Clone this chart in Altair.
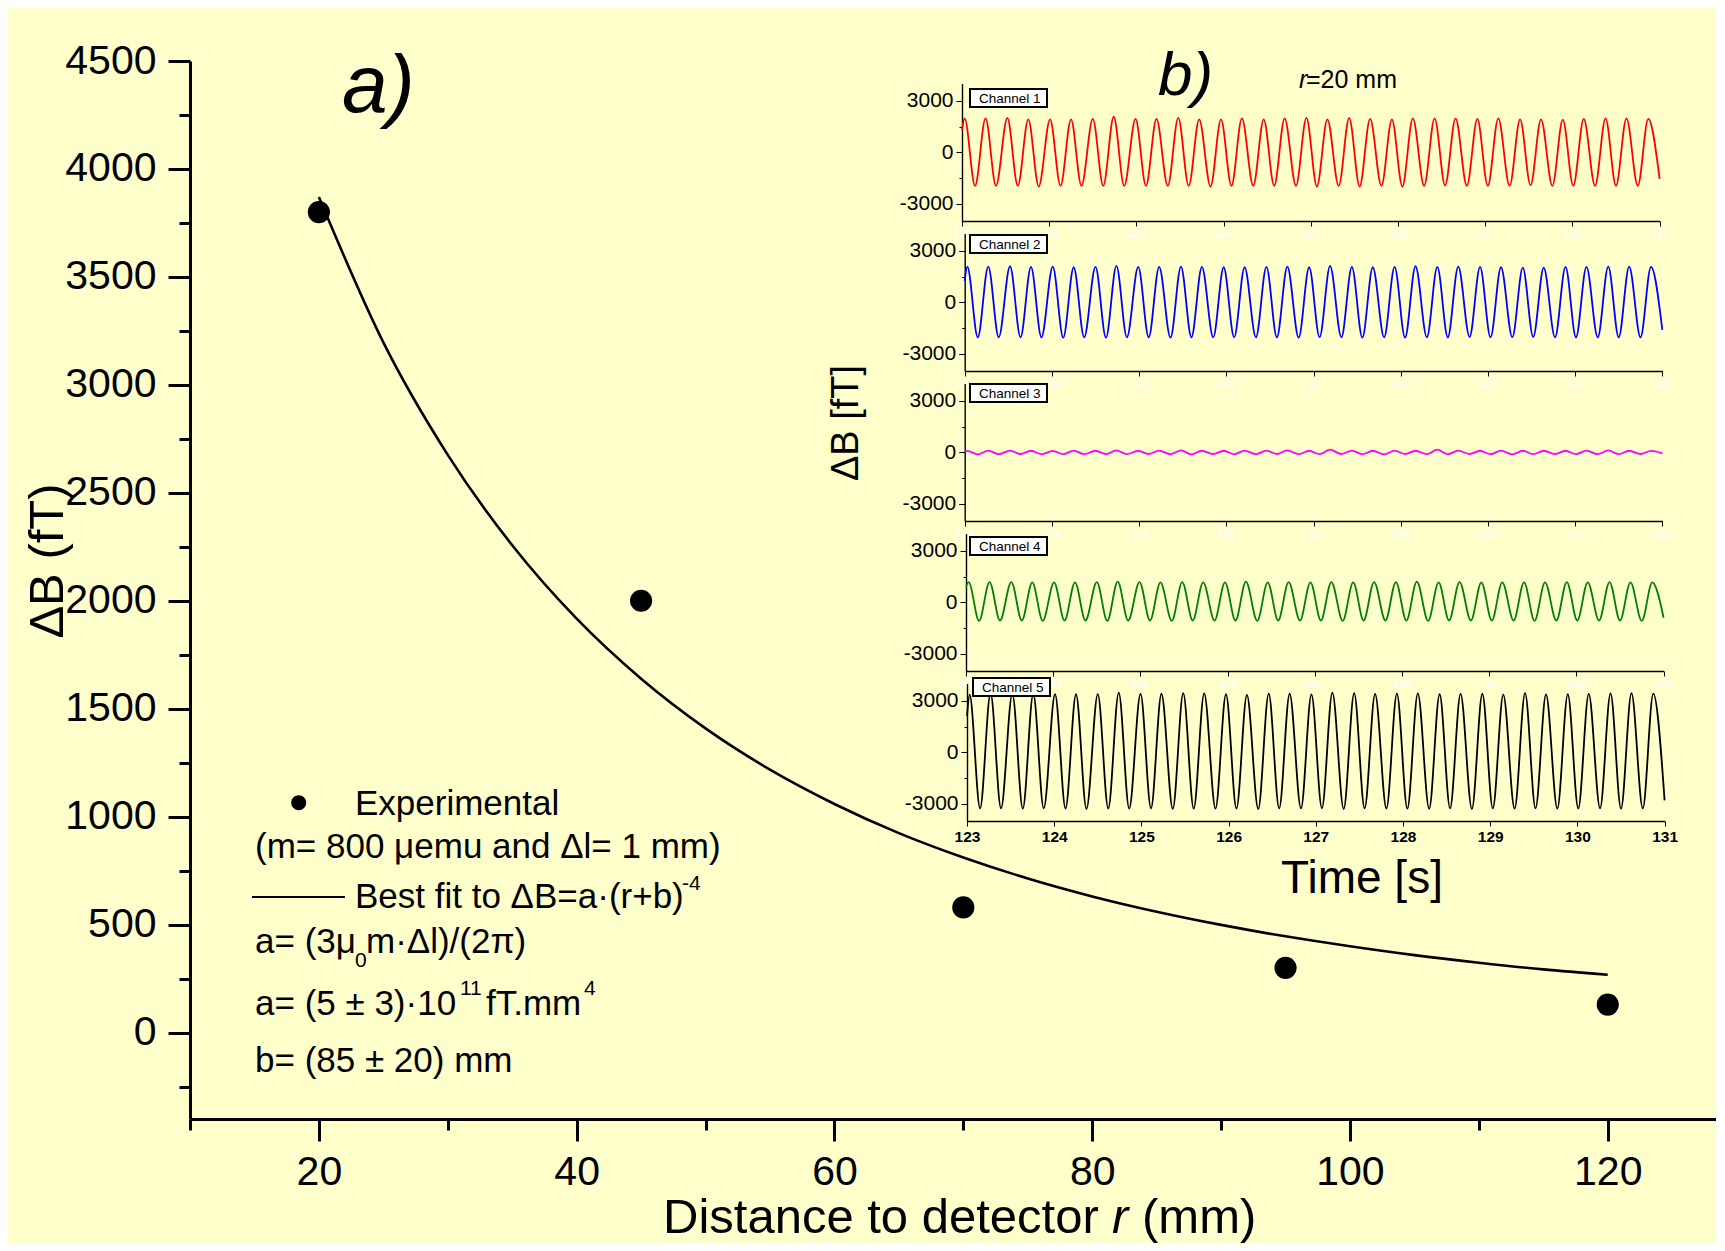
import altair as alt
import pandas as pd

# ---------------- data ----------------
r_exp = [20, 45, 70, 95, 120]
dB_exp = [3800, 2000, 580, 300, 130]

r_fit = [20, 25, 30, 35, 40, 45, 50, 55, 60, 65, 70, 75, 80, 85, 90, 95, 100, 105, 110, 115, 120]
dB_fit = [3870, 3197, 2676, 2257, 1917, 1639, 1409, 1218, 1059, 924, 811, 714, 631, 560, 499,
          446, 400, 359, 324, 293, 268]

x_ticks = [10, 20, 30, 40, 50, 60, 70, 80, 90, 100, 110, 120]
y_ticks = [-250, 0, 250, 500, 750, 1000, 1250, 1500, 1750, 2000, 2250, 2500, 2750, 3000,
           3250, 3500, 3750, 4000, 4250, 4500]

t_ticks = [123, 123.5, 124, 124.5, 125, 125.5, 126, 126.5, 127, 127.5, 128, 128.5, 129,
           129.5, 130, 130.5, 131]
v_ticks = [-3000, -1500, 0, 1500, 3000]

# times of the maxima / minima of the recorded oscillation (s)
peak_t = [123.03, 123.27, 123.52, 123.76, 124.01, 124.25, 124.50, 124.74, 124.99, 125.23,
          125.48, 125.72, 125.97, 126.21, 126.46, 126.70, 126.95, 127.19, 127.44, 127.68,
          127.93, 128.17, 128.42, 128.66, 128.91, 129.15, 129.40, 129.64, 129.89, 130.13,
          130.38, 130.62, 130.87]
trough_t = [123.15, 123.39, 123.64, 123.88, 124.13, 124.37, 124.62, 124.86, 125.11, 125.36,
            125.60, 125.85, 126.09, 126.34, 126.58, 126.83, 127.07, 127.32, 127.56, 127.81,
            128.05, 128.30, 128.54, 128.79, 129.03, 129.28, 129.52, 129.77, 130.01, 130.26,
            130.50, 130.75]
t_first, t_last = 123.0, 131.0

ch_names = ["Channel 1", "Channel 2", "Channel 3", "Channel 4", "Channel 5"]
ch_colors = ["#FF0000", "#0000FF", "#FF00FF", "#008000", "#000000"]
ch_first = [1300, 1250, 50, 900, 2100]
ch_last = [-1550, -1600, -60, -900, -2800]

ch1_peaks = [1970, 1970, 2010, 1920, 1920, 1920, 1950, 2070, 1950, 1950, 2010, 1920, 1920,
             1970, 1920, 1970, 2010, 1920, 2010, 1950, 1920, 1970, 1970, 1970, 1950, 1970,
             1920, 1920, 1900, 1950, 1970, 1970, 1950]
ch1_troughs = [-1950, -1950, -1950, -1990, -1950, -1950, -1950, -1950, -1950, -1950, -1950,
               -1990, -1950, -1950, -1950, -1950, -1990, -1950, -1990, -1950, -1990, -1950,
               -1920, -1950, -1950, -1950, -1920, -1950, -1950, -1950, -1950, -1950]
ch2_peaks = [2080, 2080, 2100, 2060, 2080, 2040, 2060, 2120, 2060, 2060, 2080, 2060, 2040,
             2040, 2060, 2080, 2040, 2120, 2060, 2040, 2060, 2100, 2060, 2080, 2060, 2040,
             2020, 2020, 2060, 2060, 2080, 2080, 2060]
ch2_troughs = [-2040, -2040, -2040, -2040, -2060, -2040, -2060, -2040, -2040, -2060, -2040,
               -2040, -2040, -2040, -2040, -2060, -2040, -2040, -2060, -2040, -2060, -2040,
               -2040, -2020, -2040, -2040, -2020, -2040, -2040, -2040, -2040, -2040]
ch3_peaks = [80, 100, 100, 90, 80, 100, 90, 110, 90, 100, 110, 90, 90, 100, 100, 110, 90,
             150, 100, 90, 100, 90, 150, 100, 90, 100, 90, 90, 90, 100, 110, 90, 80]
ch3_troughs = [-120, -110, -100, -110, -110, -110, -100, -110, -100, -110, -120, -100, -110,
               -110, -100, -110, -110, -100, -110, -120, -100, -110, -110, -100, -110, -120,
               -110, -100, -110, -110, -110, -100]
ch4_peaks = [1180, 1180, 1180, 1160, 1160, 1160, 1180, 1200, 1180, 1160, 1180, 1160, 1160,
             1200, 1160, 1180, 1160, 1180, 1160, 1180, 1180, 1200, 1160, 1180, 1160, 1160,
             1160, 1160, 1180, 1160, 1180, 1160, 1160]
ch4_troughs = [-1080, -1060, -1060, -1080, -1060, -1060, -1080, -1060, -1060, -1080, -1060,
               -1060, -1060, -1080, -1060, -1060, -1060, -1080, -1060, -1060, -1060, -1080,
               -1060, -1060, -1060, -1060, -1080, -1060, -1060, -1060, -1060, -1080]
ch5_peaks = [3350, 3440, 3420, 3410, 3380, 3380, 3390, 3480, 3400, 3410, 3440, 3430, 3380,
             3340, 3420, 3410, 3370, 3480, 3440, 3400, 3420, 3430, 3380, 3400, 3410, 3360,
             3440, 3370, 3390, 3400, 3430, 3440, 3420]
ch5_troughs = [-3260, -3260, -3280, -3260, -3270, -3300, -3270, -3270, -3260, -3290, -3280,
               -3280, -3270, -3300, -3270, -3270, -3260, -3300, -3260, -3270, -3280, -3290,
               -3260, -3300, -3270, -3280, -3260, -3280, -3270, -3260, -3290, -3270]

ch_peaks = [ch1_peaks, ch2_peaks, ch3_peaks, ch4_peaks, ch5_peaks]
ch_troughs = [ch1_troughs, ch2_troughs, ch3_troughs, ch4_troughs, ch5_troughs]

# ---------------- layout / style ----------------
FONT = "Liberation Sans, Arial, sans-serif"
BG = "#FFFFCC"
W, H = 1526, 1058
PAD = {"left": 182, "top": 53, "right": 0, "bottom": 124}

# inset panels (pixel positions inside the plot area)
IN_X_LEFT = [772, 774.7, 774.7, 776, 777]
IN_X_SPAN = 697.6
IN_ZERO = [91.3, 241.3, 391.3, 541.3, 691.3]
IN_HALF = 68.7
BOX_TOP = [28, 174, 323, 476, 617]

ONE = pd.DataFrame({"k": [0]})


def text(s, x, y, size, align="left", baseline="alphabetic", angle=None,
         style="normal", weight="normal", color="black"):
    kw = dict(text=s, fontSize=size, font=FONT, align=align, baseline=baseline,
              fontStyle=style, fontWeight=weight, color=color)
    if angle is not None:
        kw["angle"] = angle
    return alt.Chart(ONE).mark_text(**kw).encode(x=alt.value(x), y=alt.value(y))


layers = []

# ---------------- main panel a) ----------------
df_fit = pd.DataFrame({"r": r_fit, "dB": dB_fit})
df_exp = pd.DataFrame({"r": r_exp, "dB": dB_exp})

x_scale = alt.Scale(domain=[10, 128.4], nice=False, zero=False)
y_scale = alt.Scale(domain=[-400, 4500], nice=False, zero=False)

main_x_axis = alt.Axis(
    orient="bottom", values=x_ticks, format="d", title=None, grid=False,
    labelExpr="datum.value % 20 == 0 ? datum.label : ''",
    tickSize={"condition": {"test": "datum.value % 20 == 0", "value": 22}, "value": 11},
    tickWidth=3, tickColor="black", domainWidth=3, domainColor="black",
    labelFont=FONT, labelFontSize=41, labelColor="black", labelPadding=11,
    labelFlush=False, labelOverlap=False)
main_y_axis = alt.Axis(
    orient="left", values=y_ticks, format="d", title=None, grid=False,
    labelExpr="datum.value % 500 == 0 ? datum.label : ''",
    tickSize={"condition": {"test": "datum.value % 500 == 0", "value": 22}, "value": 11},
    tickWidth=3, tickColor="black", domainWidth=3, domainColor="black",
    labelFont=FONT, labelFontSize=41, labelColor="black", labelPadding=12,
    labelFlush=False, labelOverlap=False)

fit = alt.Chart(df_fit).mark_line(color="black", strokeWidth=2.6, interpolate="monotone").encode(
    x=alt.X("r:Q", scale=x_scale, axis=main_x_axis),
    y=alt.Y("dB:Q", scale=y_scale, axis=main_y_axis))
pts = alt.Chart(df_exp).mark_point(filled=True, shape="circle", size=490, color="black",
                                    opacity=1).encode(
    x=alt.X("r:Q", scale=x_scale, axis=None),
    y=alt.Y("dB:Q", scale=y_scale, axis=None))
layers += [fit, pts]

# titles and labels of panel a)
layers += [
    text("\u0394B (fT)", -127, 500, 49, align="center", angle=270),
    text("Distance to detector", 473, 1172, 49),
    text("r", 922, 1172, 49, style="italic"),
    text("(mm)", 952, 1172, 49),
    text("a)", 152, 51, 82, style="italic"),
]

# legend block
layers += [
    alt.Chart(ONE).mark_point(filled=True, shape="circle", size=227, color="black",
                              opacity=1).encode(x=alt.value(108.7), y=alt.value(741.7)),
    text("Experimental", 165, 754, 35),
    text("(m= 800 \u03bcemu and \u0394l= 1 mm)", 65, 797, 35),
    alt.Chart(ONE).mark_rule(color="black", strokeWidth=2).encode(
        x=alt.value(62), x2=alt.value(155), y=alt.value(836)),
    text("Best fit to \u0394B=a\u00b7(r+b)", 165, 847, 35),
    text("-4", 492, 829, 21),
    text("a= (3\u03bc", 65, 892, 35),
    text("0", 165, 906, 21),
    text("m\u00b7\u0394l)/(2\u03c0)", 176, 892, 35),
    text("a= (5 \u00b1 3)\u00b710", 65, 954, 35),
    text("11", 270, 934, 21),
    text("fT.mm", 296, 954, 35),
    text("4", 394, 934, 21),
    text("b= (85 \u00b1 20) mm", 65, 1011, 35),
]

# ---------------- inset panel b) ----------------
for k in range(5):
    pairs = [(t_first, ch_first[k])]
    pairs += list(zip(peak_t, ch_peaks[k])) + list(zip(trough_t, ch_troughs[k]))
    pairs.append((t_last, ch_last[k]))
    pairs.sort()
    df = pd.DataFrame(pairs, columns=["t", "v"])

    xl = IN_X_LEFT[k]
    yb = IN_ZERO[k] + IN_HALF
    yt = IN_ZERO[k] - IN_HALF
    last = k == 4

    ix_axis = alt.Axis(
        orient="bottom", offset=-(H - yb), values=t_ticks, format="d", title=None,
        grid=False, labelExpr="datum.value % 1 == 0 ? datum.label : ''",
        tickSize={"condition": {"test": "datum.value % 1 == 0", "value": 5}, "value": 3},
        tickWidth=1, tickColor="black", domainWidth=1.4, domainColor="black",
        labelFont=FONT, labelFontSize=15.5 if last else 11,
        labelFontWeight="bold" if last else "normal",
        labelColor="black" if last else "white", labelPadding=3 if last else 1,
        labelFlush=False, labelOverlap=False)
    iy_axis = alt.Axis(
        orient="left", offset=-xl, values=v_ticks, title=None, grid=False, format="d",
        labelExpr="datum.value % 3000 == 0 ? replace(datum.label, '\u2212', '-') : ''",
        tickSize={"condition": {"test": "datum.value % 3000 == 0", "value": 6}, "value": 3},
        tickWidth=1, tickColor="black", domainWidth=1.4, domainColor="black",
        labelFont=FONT, labelFontSize=21, labelColor="black", labelPadding=3,
        labelFlush=False, labelOverlap=False)

    line = alt.Chart(df).mark_line(color=ch_colors[k], strokeWidth=1.8,
                                   interpolate="monotone").encode(
        x=alt.X("t:Q", scale=alt.Scale(domain=[123, 131], range=[xl, xl + IN_X_SPAN],
                                       nice=False, zero=False), axis=ix_axis),
        y=alt.Y("v:Q", scale=alt.Scale(domain=[-4000, 4000], range=[yb, yt],
                                       nice=False, zero=False), axis=iy_axis))
    layers.append(line)

    bx = 780 if k < 4 else 783
    layers.append(alt.Chart(ONE).mark_rect(fill="white", stroke="black", strokeWidth=2).encode(
        x=alt.value(bx), x2=alt.value(bx + 77), y=alt.value(BOX_TOP[k]),
        y2=alt.value(BOX_TOP[k] + 18)))
    layers.append(text(ch_names[k], bx + 9, BOX_TOP[k] + 14.3, 13.5))

layers += [
    text("b)", 968, 34, 62, style="italic"),
    text("r", 1109, 27, 25, style="italic"),
    text("=20 mm", 1116, 27, 25),
    text("\u0394B [fT]", 668, 362, 38, align="center", angle=270),
    text("Time [s]", 1172, 832, 46, align="center"),
]

chart = alt.layer(*layers).resolve_scale(x="independent", y="independent").properties(
    width=W, height=H, background=BG, padding=PAD,
    autosize=alt.AutoSizeParams(type="none"),
).configure_view(stroke=None)

chart.save("out.html", embed_options={"renderer": "svg", "actions": False})
